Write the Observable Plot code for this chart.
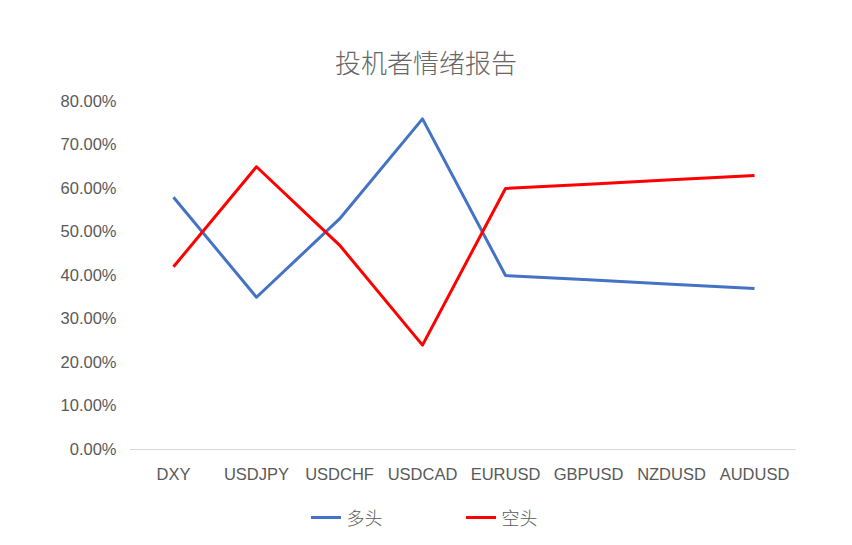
<!DOCTYPE html>
<html>
<head>
<meta charset="utf-8">
<script src="https://cdn.jsdelivr.net/npm/d3@7"></script>
<script src="https://cdn.jsdelivr.net/npm/@observablehq/plot@0.6"></script>
<style>
  html, body { margin: 0; padding: 0; background: #fff; }
  #wrap { position: relative; width: 852px; height: 545px; overflow: hidden; }
  #title { position: absolute; top: 44px; left: 0; width: 852px; text-align: center;
    font-family: "Noto Sans CJK SC", sans-serif; font-size: 26px; line-height: 36px; color: #666666; font-weight: 300; }
  #chart { position: absolute; top: 80px; left: 0; }
  #legend { position: absolute; top: 503px; left: -2px; width: 852px; display: flex; justify-content: center; align-items: center;
    font-family: "Noto Sans CJK SC", sans-serif; font-size: 18px; line-height: 28px; color: #595959; font-weight: 300; }
  .item { display: flex; align-items: center; }
  .sw { display: inline-block; width: 30px; height: 3px; margin-right: 6px; }
  .gap { width: 83px; }
</style>
</head>
<body>
<div id="wrap">
  <div id="title">投机者情绪报告</div>
  <div id="chart"></div>
  <div id="legend"></div>
</div>
<script>
const categories = ["DXY", "USDJPY", "USDCHF", "USDCAD", "EURUSD", "GBPUSD", "NZDUSD", "AUDUSD"];
const longValues = [0.58, 0.35, 0.53, 0.76, 0.40, 0.39, 0.38, 0.37];
const shortValues = [0.42, 0.65, 0.47, 0.24, 0.60, 0.61, 0.62, 0.63];
const seriesNames = ["多头", "空头"];
const seriesColors = ["#4472C4", "#FF0000"];
const yTicks = [0, 0.1, 0.2, 0.3, 0.4, 0.5, 0.6, 0.7, 0.8];

const data = [];
categories.forEach((c, i) => {
  data.push({ cat: c, series: seriesNames[0], value: longValues[i] });
});
categories.forEach((c, i) => {
  data.push({ cat: c, series: seriesNames[1], value: shortValues[i] });
});

const plot = Plot.plot({
  width: 852,
  height: 420,
  marginTop: 21,
  marginBottom: 51,
  marginLeft: 130,
  marginRight: 56,
  style: { fontFamily: "'Liberation Sans', Arial, sans-serif", fontSize: "16.5px", color: "#595959", background: "#fff" },
  x: { type: "point", domain: categories, padding: 0.5, label: null },
  y: { domain: [0, 0.8], label: null },
  color: { domain: seriesNames, range: seriesColors },
  marks: [
    Plot.ruleY([0], { stroke: "#D9D9D9", strokeWidth: 1 }),
    Plot.axisY({ ticks: yTicks, tickFormat: d3.format(".2%"), tickSize: 0, tickPadding: 14, label: null, fill: "#595959" }),
    Plot.axisX({ tickSize: 0, tickPadding: 19, label: null, fill: "#595959" }),
    Plot.line(data, { x: "cat", y: "value", z: "series", stroke: "series", strokeWidth: 3, strokeLinejoin: "round", strokeLinecap: "butt" })
  ]
});
document.getElementById("chart").appendChild(plot);

const legend = document.getElementById("legend");
seriesNames.forEach((name, i) => {
  if (i > 0) { const g = document.createElement("span"); g.className = "gap"; legend.appendChild(g); }
  const item = document.createElement("span"); item.className = "item";
  const sw = document.createElement("span"); sw.className = "sw"; sw.style.background = seriesColors[i];
  const t = document.createElement("span"); t.textContent = name;
  item.appendChild(sw); item.appendChild(t);
  legend.appendChild(item);
});
</script>
</body>
</html>
